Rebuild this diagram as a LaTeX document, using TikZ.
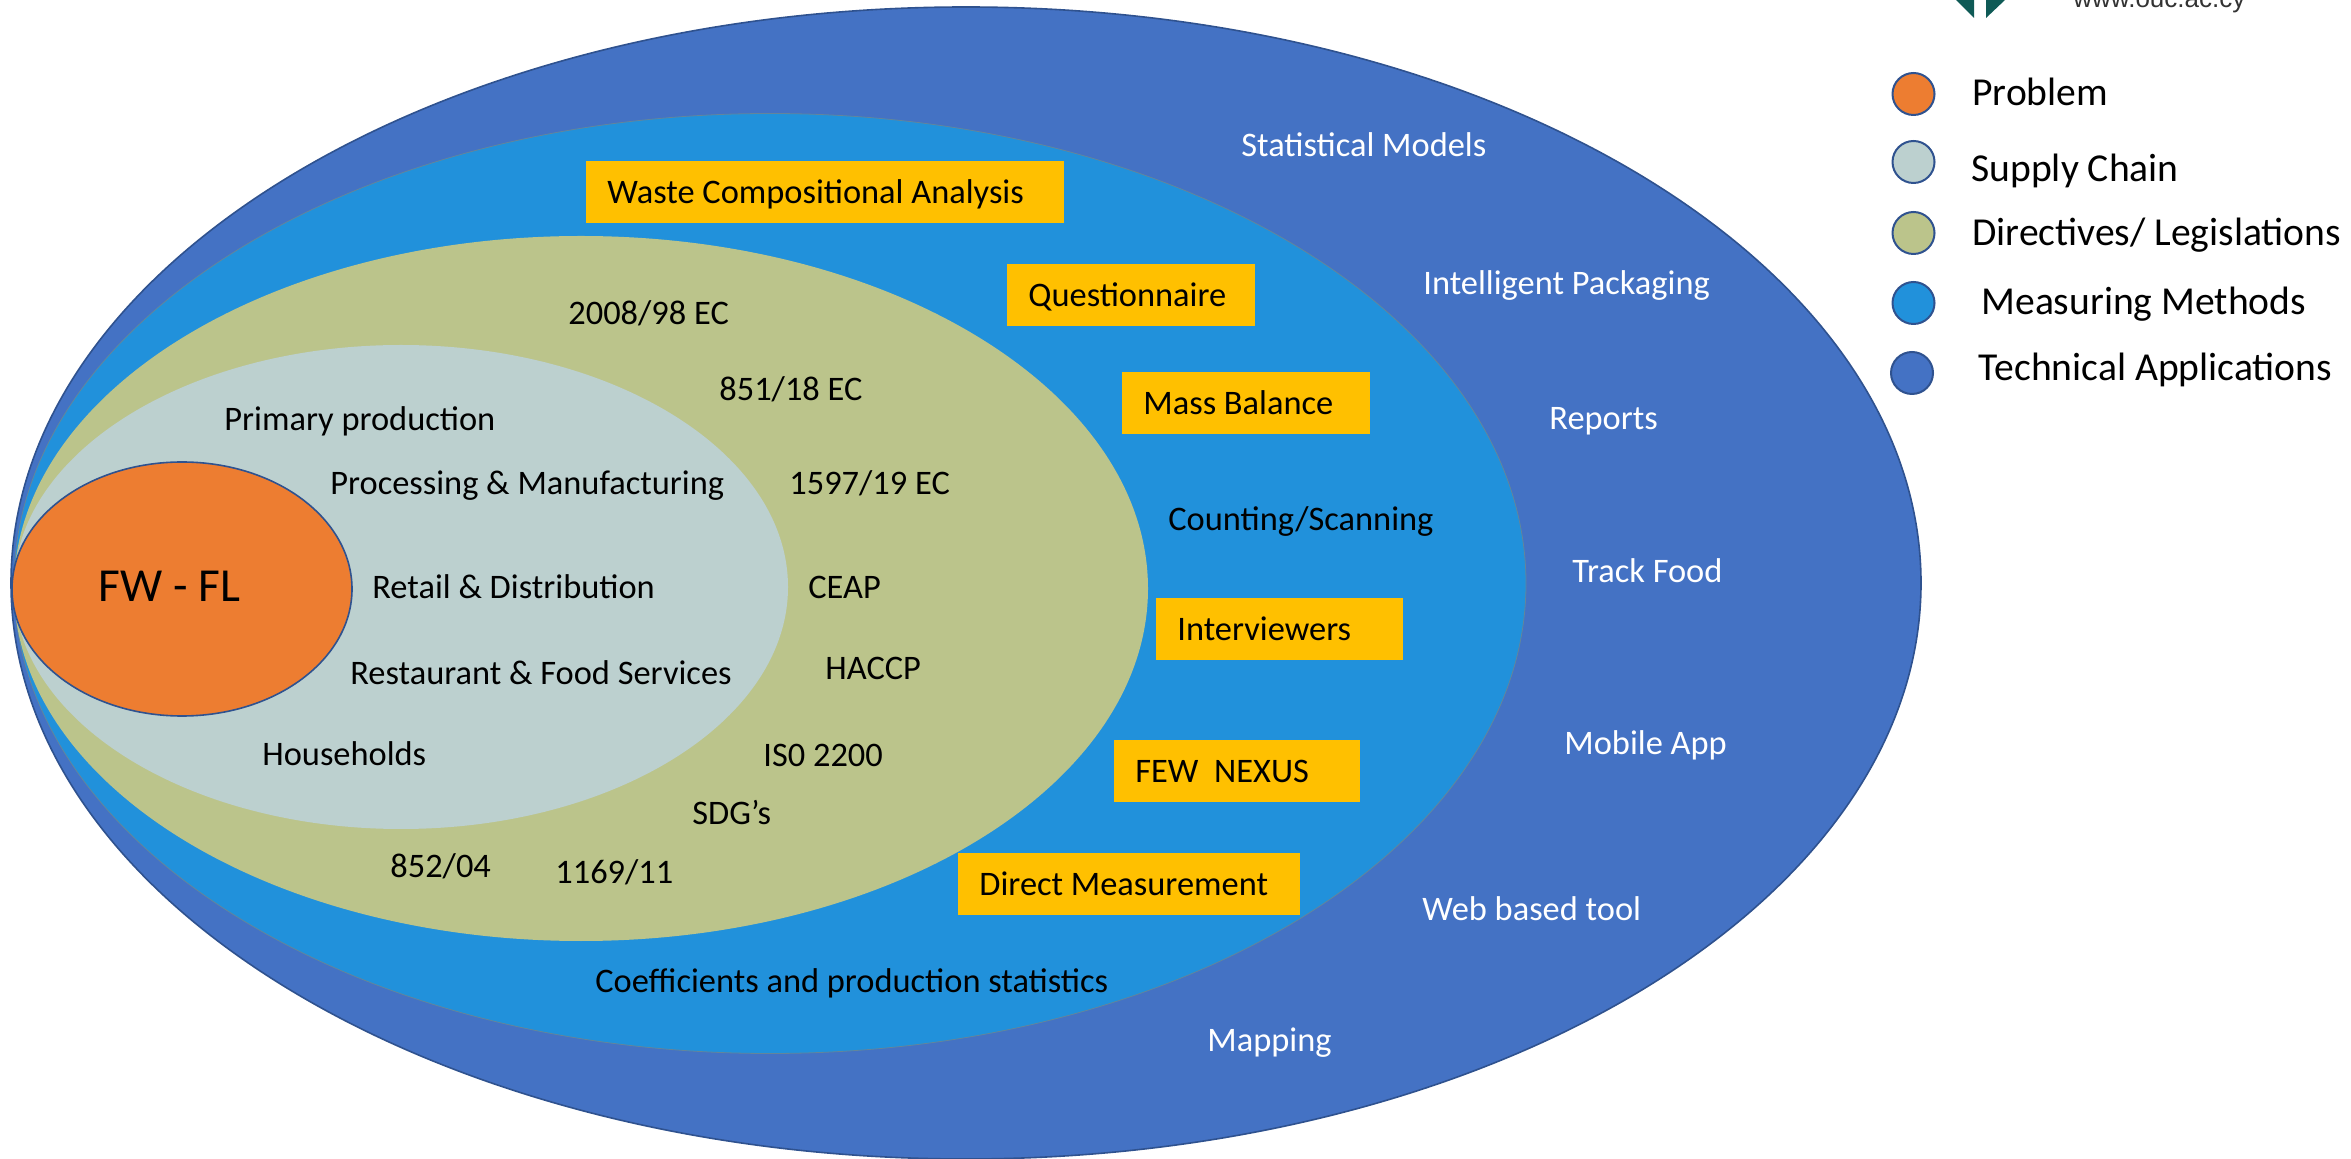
\documentclass[tikz,border=0pt]{standalone}
\usepackage{fontspec}
\setmainfont{Carlito}
\newfontfamily\logofont{Liberation Sans}
\usetikzlibrary{shapes.geometric}
\definecolor{techblue}{HTML}{4472C4}
\definecolor{measblue}{HTML}{2191DB}
\definecolor{dirolive}{HTML}{BBC48B}
\definecolor{chaingrey}{HTML}{BCD0CF}
\definecolor{probornge}{HTML}{ED7D31}
\definecolor{rimblue}{HTML}{2F528F}
\definecolor{boxyellow}{HTML}{FFC000}
\definecolor{logoteal}{HTML}{0F5A56}
\tikzset{ring/.style={ellipse, inner sep=0pt, draw=rimblue, line width=0.8pt},
  lbl/.style={anchor=base west, inner sep=0pt, yshift=-0.6pt, font=\fontsize{17.2}{20}\selectfont},
  wlbl/.style={lbl, text=white},
  ybox/.style={anchor=north west, fill=boxyellow, align=left, inner ysep=0pt, inner xsep=10.5pt, text height=21pt, text depth=10pt, font=\fontsize{17.2}{20}\selectfont, execute at begin node={\spaceskip=0pt\relax\xspaceskip=0pt\relax}},
  dot/.style={ellipse, inner sep=0pt, minimum width=21pt, minimum height=21pt, draw=rimblue, line width=1pt},
  keylbl/.style={anchor=base west, inner sep=0pt, yshift=-0.6pt, font=\fontsize{19.8}{23}\selectfont}}

\begin{document}
\begin{tikzpicture}[x=0.5pt,y=-0.5pt]
       \useasboundingbox (0,0) rectangle (2351,1159);
       \begin{scope}
        \node[ring, fill=techblue, minimum width=955pt, minimum height=576pt] (tech) at (966,583) {};
        \node[ring, fill=measblue, draw=gray!70!measblue, line width=0.4pt, minimum width=756pt, minimum height=470pt] (meas) at (770,583.5) {};
        \node[ring, fill=dirolive, draw=none, minimum width=567pt, minimum height=352.5pt] (dir) at (581,588.5) {};
        \node[ring, fill=chaingrey, draw=none, minimum width=387pt, minimum height=242pt] (chain) at (401,587) {};
        \node[ring, fill=probornge, minimum width=170pt, minimum height=127pt] (prob) at (182,589) {};
       \end{scope}
       % problem and supply chain
       \node[lbl, font=\fontsize{23.7}{27}\selectfont] (fw) at (98,600) {FW - FL};
       \node[lbl] (prim) at (224,429) {Primary production};
       \node[lbl] (proc) at (330,493) {Processing \& Manufacturing};
       \node[lbl] (retail) at (372,597) {Retail \& Distribution};
       \node[lbl] (rest) at (350,683) {Restaurant \& Food Services};
       \node[lbl] (house) at (262,764) {Households};
       % directives
       \node[lbl] (d2008) at (568,323) {2008/98 EC};
       \node[lbl] (d851) at (719,399) {851/18 EC};
       \node[lbl] (d1597) at (789,493) {1597/19 EC};
       \node[lbl] (ceap) at (808,597) {CEAP};
       \node[lbl] (haccp) at (825,678) {HACCP};
       \node[lbl] (iso) at (763,765) {IS0 2200};
       \node[lbl] (sdg) at (692,823) {SDG’s};
       \node[lbl] (d852) at (390,876) {852/04};
       \node[lbl] (d1169) at (555,882) {1169/11};
       % measuring methods
       \node[ybox, text width=218pt] (waste) at (586,161) {Waste Compositional Analysis};
       \node[ybox, text width=103pt] (quest) at (1007,264) {Questionnaire};
       \node[ybox, text width=103pt] (mass) at (1122,372) {Mass Balance};
       \node[ybox, text width=102.5pt] (inter) at (1156,598) {Interviewers};
       \node[ybox, text width=102pt] (nexus) at (1114,740) {FEW\ \ NEXUS};
       \node[ybox, text width=150pt] (direct) at (958,853) {Direct Measurement};
       \node[lbl] (count) at (1168,529) {Counting/Scanning};
       \node[lbl] (coef) at (595,991) {Coefficients and production statistics};
       % technical applications
       \node[wlbl] (stat) at (1241,155) {Statistical Models};
       \node[wlbl] (pack) at (1423,293) {Intelligent Packaging};
       \node[wlbl] (rep) at (1549,428) {Reports};
       \node[wlbl] (track) at (1572,581) {Track Food};
       \node[wlbl] (mob) at (1564,753) {Mobile App};
       \node[wlbl] (web) at (1422,919) {Web based tool};
       \node[wlbl] (map) at (1207,1050) {Mapping};
       % key
       \node[dot, fill=probornge] (k1) at (1913.5,94) {};
       \node[dot, fill=chaingrey] (k2) at (1913.5,162) {};
       \node[dot, fill=dirolive] (k3) at (1913.5,233) {};
       \node[dot, fill=measblue] (k4) at (1913.5,303) {};
       \node[dot, fill=techblue] (k5) at (1912,373) {};
       \node[keylbl] (t1) at (1972,104) {Problem};
       \node[keylbl] (t2) at (1971,180) {Supply Chain};
       \node[keylbl] (t3) at (1972,244) {Directives/ Legislations};
       \node[keylbl] (t4) at (1981,313) {Measuring Methods};
       \node[keylbl] (t5) at (1978.5,379) {Technical Applications};
       % logo remains
       \fill[logoteal] (1956,0) -- (1974,0) -- (1974,18) -- cycle;
       \fill[logoteal] (2005,0) -- (1986,0) -- (1986,18) -- cycle;
       \node[anchor=base west, inner sep=0pt, text=black!80, font=\logofont\fontsize{13}{15}\selectfont] (www) at (2073,8) {www.ouc.ac.cy};
      \end{tikzpicture}
\end{document}
